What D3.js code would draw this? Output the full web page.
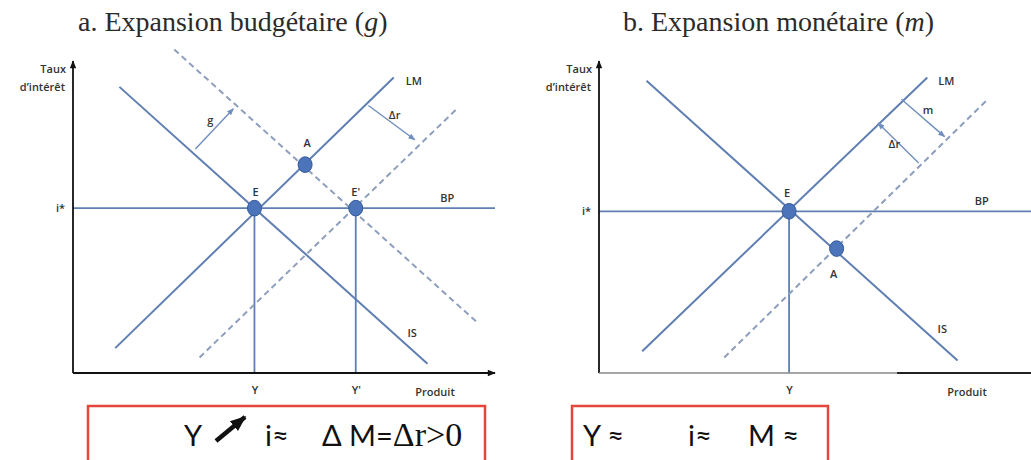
<!DOCTYPE html>
<html>
<head>
<meta charset="utf-8">
<script src="https://cdn.jsdelivr.net/npm/d3@7"></script>
<style>
  html, body { margin: 0; padding: 0; background: #fff; }
  svg { display: block; }
  .lbl { font-family: "Open Sans", "DejaVu Sans", sans-serif; font-size: 11px; font-weight: 600; fill: #333; }
  .title { font-family: "Liberation Serif", "DejaVu Serif", serif; font-size: 28px; fill: #2b2b2b; }
  .box { font-family: Lato, "Open Sans", sans-serif; font-size: 29px; fill: #111; }
  .serif { font-family: "Liberation Serif", "DejaVu Serif", serif; font-size: 34px; }
</style>
</head>
<body>
<svg id="chart" width="1031" height="460"></svg>
<script>
// ---- Panel a: fiscal expansion ----
const titleA = "a. Expansion budgétaire (";
const varA = "g";
const isA = [[11, 92], [84, 3]];        // IS
const lmA = [[10, 8], [76, 95]];        // LM
const isA2 = [[24, 104], [96, 16]];     // IS' (after g)
const lmA2 = [[30, 5], [91, 85]];       // LM' (after Δr)
const bpA = 53;                          // i*
const outputA = [43, 67];
const outputLabelsA = ["Y", "Y'"];
const pointNamesA = ["E", "E'", "A"];
const pointXA = [43, 67, 55];
const pointYA = [53, 53, 67];
const shiftLabelsA = ["g", "Δr"];
const shiftFromA = [[29, 72], [70, 86]];
const shiftToA = [[38, 85], [81, 75]];

// ---- Panel b: monetary expansion ----
const titleB = "b. Expansion monétaire (";
const varB = "m";
const isB = [[11, 94], [83, 4]];
const lmB = [[10, 7], [76, 95]];
const lmB2 = [[29, 5], [90, 88]];
const bpB = 52;
const outputB = [44];
const outputLabelsB = ["Y"];
const pointNamesB = ["E", "A"];
const pointXB = [44, 55];
const pointYB = [52, 40];
const shiftLabelsB = ["m", "Δr"];
const shiftFromB = [[70, 88], [74, 67.5]];
const shiftToB = [[80, 76], [64.6, 80.4]];

// ---- Summary boxes ----
const summaryA = ["Y", "i≈", "Δ M=", "Δr>0"];
const summaryB = ["Y ≈", "i≈", "M ≈"];

const svg = d3.select("#chart");
const defs = svg.append("defs");

function marker(id, color, w, h) {
  defs.append("marker")
    .attr("id", id).attr("viewBox", "0 0 10 10")
    .attr("refX", 9).attr("refY", 5)
    .attr("markerWidth", w).attr("markerHeight", h)
    .attr("markerUnits", "userSpaceOnUse")
    .attr("orient", "auto")
    .append("path").attr("d", "M0,1 L10,5 L0,9 Z").attr("fill", color);
}
marker("axisArrow", "#111", 9, 8);
marker("shiftArrow", "#6f8fbf", 8, 7);
marker("boldArrow", "#111", 16, 16);

const solid = "#5f7fb3";
const dashed = "#8d9fbc";

function panel(opt) {
  const g = svg.append("g");
  const x = d3.scaleLinear().domain([0, 100]).range([opt.x0, opt.x1]);
  const y = d3.scaleLinear().domain([0, 100]).range([373, 62]);
  const line = d3.line().x(d => x(d[0])).y(d => y(d[1]));

  // title
  const t = g.append("text").attr("class", "title").attr("x", opt.titleX).attr("y", 31);
  t.append("tspan").text(opt.title);
  t.append("tspan").attr("font-style", "italic").text(opt.v);
  t.append("tspan").text(")");

  // BP line
  g.append("line")
    .attr("x1", x(0)).attr("x2", opt.bpEnd)
    .attr("y1", y(opt.bp)).attr("y2", y(opt.bp))
    .attr("stroke", solid).attr("stroke-width", 1.8);

  // verticals from equilibria down to output axis
  g.selectAll(".vert").data(opt.outputs).join("line")
    .attr("x1", d => x(d)).attr("x2", d => x(d))
    .attr("y1", y(opt.bp)).attr("y2", y(0))
    .attr("stroke", solid).attr("stroke-width", 1.8);

  // dashed shifted curves
  opt.dashedCurves.forEach(c => {
    g.append("path").attr("d", line(c)).attr("fill", "none")
      .attr("stroke", dashed).attr("stroke-width", 2).attr("stroke-dasharray", "6,4");
  });
  // solid curves
  opt.solidCurves.forEach(c => {
    g.append("path").attr("d", line(c)).attr("fill", "none")
      .attr("stroke", solid).attr("stroke-width", 2);
  });

  // shift arrows
  opt.shiftFrom.forEach((f, i) => {
    g.append("line")
      .attr("x1", x(f[0])).attr("y1", y(f[1]))
      .attr("x2", x(opt.shiftTo[i][0])).attr("y2", y(opt.shiftTo[i][1]))
      .attr("stroke", "#6f8fbf").attr("stroke-width", 1.4)
      .attr("marker-end", "url(#shiftArrow)");
    const mx = (x(f[0]) + x(opt.shiftTo[i][0])) / 2 + opt.shiftDx[i];
    const my = (y(f[1]) + y(opt.shiftTo[i][1])) / 2 + opt.shiftDy[i];
    g.append("text").attr("class", "lbl").attr("x", mx).attr("y", my)
      .attr("text-anchor", "middle").attr("dominant-baseline", "middle")
      .text(opt.shiftLabels[i]);
  });

  // curve labels
  const lmEnd = opt.solidCurves[1][1];
  g.append("text").attr("class", "lbl")
    .attr("x", x(lmEnd[0]) + opt.lmDx).attr("y", y(lmEnd[1]) + 5)
    .attr("dominant-baseline", "middle").text("LM");
  const isEnd = opt.solidCurves[0][1];
  g.append("text").attr("class", "lbl")
    .attr("x", x(isEnd[0]) - 20).attr("y", y(isEnd[1]) - 30)
    .attr("dominant-baseline", "middle").text("IS");
  g.append("text").attr("class", "lbl")
    .attr("x", x(87)).attr("y", y(opt.bp) - 9)
    .attr("dominant-baseline", "middle").text("BP");

  // equilibrium points
  opt.px.forEach((px, i) => {
    g.append("ellipse")
      .attr("cx", x(px)).attr("cy", y(opt.py[i]))
      .attr("rx", 7).attr("ry", 7.8)
      .attr("fill", "#4b74bb").attr("stroke", "#35599a").attr("stroke-width", 1);
    g.append("text").attr("class", "lbl")
      .attr("x", x(px) + opt.ptDx[i]).attr("y", y(opt.py[i]) + opt.ptDy[i])
      .attr("text-anchor", "middle").attr("dominant-baseline", "middle")
      .text(opt.names[i]);
  });

  // axes: tick labels through d3 axes
  const ax = g.append("g").attr("transform", `translate(0,${y(0)})`)
    .call(d3.axisBottom(x).tickValues(opt.outputs)
      .tickFormat((d, i) => opt.outputLabels[i]).tickSize(0).tickPadding(13));
  ax.select(".domain").remove();
  ax.selectAll("text").attr("class", "lbl").attr("font-size", null).attr("font-family", null);

  const ay = g.append("g").attr("transform", `translate(${x(0)},0)`)
    .call(d3.axisLeft(y).tickValues([opt.bp]).tickFormat(() => "i*").tickSize(0).tickPadding(8));
  ay.select(".domain").remove();
  ay.selectAll("text").attr("class", "lbl").attr("font-size", null).attr("font-family", null)
    .attr("fill", "#555");

  // axis lines
  g.append("line").attr("x1", x(0)).attr("x2", x(0)).attr("y1", y(0)).attr("y2", y(100) - 1)
    .attr("stroke", "#111").attr("stroke-width", 1.8).attr("marker-end", "url(#axisArrow)");
  if (opt.xArrow) {
    g.append("line").attr("x1", x(0)).attr("x2", x(100)).attr("y1", y(0)).attr("y2", y(0))
      .attr("stroke", "#111").attr("stroke-width", 1.8).attr("marker-end", "url(#axisArrow)");
  } else {
    g.append("line").attr("x1", x(0)).attr("x2", x(100)).attr("y1", y(0)).attr("y2", y(0))
      .attr("stroke", "#888").attr("stroke-width", 1.6);
    g.append("line").attr("x1", x(69)).attr("x2", x(100)).attr("y1", y(0)).attr("y2", y(0))
      .attr("stroke", "#222").attr("stroke-width", 2.2);
  }

  // axis titles
  g.append("text").attr("class", "lbl").attr("x", x(0) - 7).attr("y", 73)
    .attr("text-anchor", "end").text("Taux");
  g.append("text").attr("class", "lbl").attr("x", x(0) - 8).attr("y", 91)
    .attr("text-anchor", "end").text("d’intérêt");
  g.append("text").attr("class", "lbl").attr("x", opt.prodX).attr("y", 396)
    .attr("text-anchor", "middle").text("Produit");
}

panel({
  x0: 73, x1: 495, titleX: 78, title: titleA, v: varA,
  bp: bpA, bpEnd: 495, outputs: outputA, outputLabels: outputLabelsA,
  solidCurves: [isA, lmA], dashedCurves: [isA2, lmA2],
  shiftFrom: shiftFromA, shiftTo: shiftToA, shiftLabels: shiftLabelsA,
  shiftDx: [-4, 3], shiftDy: [-8, -7],
  px: pointXA, py: pointYA, names: pointNamesA,
  ptDx: [1, 0, 2], ptDy: [-15, -15, -21],
  lmDx: 12, xArrow: true, prodX: 435
});

panel({
  x0: 599, x1: 1031, titleX: 623, title: titleB, v: varB,
  bp: bpB, bpEnd: 1031, outputs: outputB, outputLabels: outputLabelsB,
  solidCurves: [isB, lmB], dashedCurves: [lmB2],
  shiftFrom: shiftFromB, shiftTo: shiftToB, shiftLabels: shiftLabelsB,
  shiftDx: [5, -4], shiftDy: [-7, 2],
  px: pointXB, py: pointYB, names: pointNamesB,
  ptDx: [-2, -3], ptDy: [-17, 26],
  lmDx: 11, xArrow: false, prodX: 967
});

// ---- summary boxes ----
svg.append("rect").attr("x", 88).attr("y", 406).attr("width", 397).attr("height", 60)
  .attr("fill", "none").attr("stroke", "#e5453b").attr("stroke-width", 2.5);
svg.append("rect").attr("x", 572).attr("y", 406).attr("width", 256).attr("height", 60)
  .attr("fill", "none").attr("stroke", "#e5453b").attr("stroke-width", 2.5);

svg.append("text").attr("class", "box").attr("x", 184).attr("y", 446).text(summaryA[0]);
svg.append("line").attr("x1", 216).attr("y1", 441).attr("x2", 245).attr("y2", 417)
  .attr("stroke", "#111").attr("stroke-width", 4.5).attr("marker-end", "url(#boldArrow)");
svg.append("text").attr("class", "box").attr("x", 265).attr("y", 446).text(summaryA[1]);
const tA = svg.append("text").attr("class", "box").attr("x", 322).attr("y", 446);
tA.append("tspan").text(summaryA[2]);
tA.append("tspan").attr("class", "serif").text(summaryA[3]);

[583, 688, 748].forEach((px, i) => {
  svg.append("text").attr("class", "box").attr("x", px).attr("y", 446).text(summaryB[i]);
});
</script>
</body>
</html>
